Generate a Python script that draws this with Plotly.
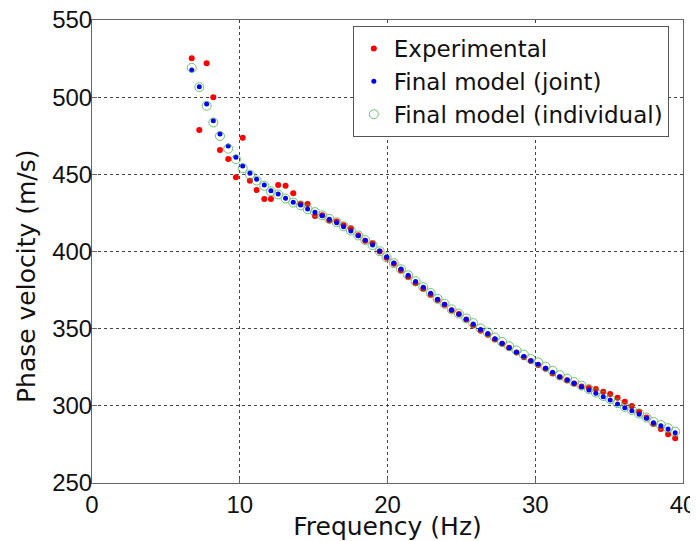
import plotly.graph_objects as go

# Frequencies (Hz)
frequency = [6.75, 7.26, 7.76, 8.21, 8.66, 9.22, 9.74, 10.2, 10.69, 11.14,
             11.66, 12.11, 12.6, 13.1, 13.62, 14.12, 14.59, 15.09, 15.58, 16.06,
             16.56, 17.03, 17.52, 18.02, 18.49, 18.99, 19.47, 19.94, 20.43, 20.91,
             21.4, 21.9, 22.42, 22.92, 23.39, 23.86, 24.34, 24.83, 25.33, 25.8,
             26.3, 26.79, 27.27, 27.76, 28.23, 28.73, 29.23, 29.7, 30.2, 30.7,
             31.17, 31.66, 32.16, 32.63, 33.13, 33.63, 34.1, 34.6, 35.07, 35.57,
             36.06, 36.54, 37.03, 37.53, 38.0, 38.5, 38.99, 39.47]

experimental = [525.2, 478.7, 521.9, 499.9, 465.8, 459.9, 448.1, 473.7, 445.9, 439.8,
                434.0, 434.0, 443.1, 442.6, 437.7, 430.8, 430.8, 423.0, 423.5, 420.1,
                419.5, 417.0, 415.0, 410.5, 407.0, 405.3, 400.0, 396.0, 392.0, 387.8,
                383.5, 379.5, 375.8, 372.0, 368.6, 365.5, 362.0, 359.5, 356.0, 352.0,
                348.6, 346.0, 343.0, 340.2, 337.7, 334.5, 331.5, 329.0, 326.5, 324.0,
                321.0, 318.5, 316.5, 314.5, 312.6, 311.5, 310.9, 309.2, 307.7, 305.3,
                302.7, 299.9, 296.2, 292.5, 288.3, 285.0, 281.6, 279.0]

model_joint = [517.6, 506.8, 495.6, 484.8, 476.1, 468.4, 461.0, 455.4, 450.7, 446.8,
               443.1, 439.4, 437.3, 434.5, 431.9, 430.1, 427.5, 425.4, 423.2, 420.9,
               418.7, 416.1, 413.3, 410.2, 407.3, 404.2, 400.3, 396.4, 392.5, 388.6,
               384.6, 380.6, 376.8, 372.9, 369.0, 365.8, 362.1, 359.3, 356.1, 353.0,
               349.5, 346.8, 343.5, 340.5, 337.7, 334.8, 332.0, 329.2, 326.9, 324.3,
               321.7, 318.9, 316.7, 314.6, 312.4, 310.3, 308.1, 305.9, 303.8, 301.2,
               298.8, 296.8, 294.5, 291.9, 289.1, 287.1, 285.0, 282.6]

model_individual = [519.0, 506.5, 494.4, 483.6, 474.8, 466.6, 459.8, 454.0, 449.8, 446.0,
                    442.6, 439.0, 437.0, 434.3, 431.7, 429.9, 427.4, 425.5, 423.4, 421.2,
                    419.0, 416.4, 413.6, 410.4, 407.4, 404.2, 400.2, 396.3, 392.4, 388.5,
                    384.6, 380.7, 376.9, 373.1, 369.3, 366.1, 362.5, 359.7, 356.6, 353.6,
                    350.2, 347.5, 344.3, 341.4, 338.6, 335.9, 333.2, 330.4, 328.1, 325.4,
                    322.8, 319.9, 317.6, 315.4, 313.1, 310.9, 308.6, 306.4, 304.3, 301.7,
                    299.3, 297.3, 295.0, 292.4, 289.6, 287.6, 285.5, 283.2]

x_ticks = [0, 10, 20, 30, 40]
y_ticks = [250, 300, 350, 400, 450, 500, 550]

TICK_FONT = "Liberation Sans, Arial, sans-serif"
LABEL_FONT = "DejaVu Sans, Liberation Sans, sans-serif"

fig = go.Figure()
fig.add_trace(go.Scatter(
    x=frequency, y=experimental, mode="markers", name="Experimental",
    marker=dict(color="#ff0000", size=6, line=dict(width=0)),
))
fig.add_trace(go.Scatter(
    x=frequency, y=model_joint, mode="markers", name="Final model (joint)",
    marker=dict(color="#0000ff", size=5, line=dict(width=0)),
))
fig.add_trace(go.Scatter(
    x=frequency, y=model_individual, mode="markers", name="Final model (individual)",
    marker=dict(symbol="circle-open", color="#3cb043", size=9, line=dict(width=1)),
    opacity=0.75,
))

axis_common = dict(
    showline=True, linecolor="#666666", linewidth=1, mirror=True,
    ticks="inside", ticklen=5, tickcolor="#666666",
    showgrid=True, gridcolor="#444444", griddash="dot", gridwidth=1,
    zeroline=False,
    ticklabeloverflow="allow",
    tickfont=dict(family=TICK_FONT, size=24, color="#111111"),
)

fig.update_xaxes(
    range=[0, 40], tickvals=x_ticks, ticktext=[str(t) for t in x_ticks],
    title=dict(text="Frequency (Hz)", font=dict(family=LABEL_FONT, size=25, color="#111111"), standoff=4),
    **axis_common,
)
fig.update_yaxes(
    range=[250, 550], tickvals=y_ticks, ticktext=[str(t) for t in y_ticks],
    ticklabelstandoff=-6,
    **axis_common,
)

# y-axis title placed as a rotated annotation (reference label sits below axis centre)
fig.add_annotation(
    text="Phase velocity (m/s)", textangle=-90,
    xref="paper", yref="paper", x=0, y=0.447,
    xanchor="center", yanchor="middle", xshift=-66, showarrow=False,
    font=dict(family=LABEL_FONT, size=25, color="#111111"),
)

# page body adds an 8px offset, so the figure is sized/margined to compensate
fig.update_layout(
    width=690, height=533,
    margin=dict(l=84, r=15, t=12, b=58, autoexpand=False),
    plot_bgcolor="white", paper_bgcolor="white",
    legend=dict(
        x=0.976, y=0.987, xanchor="right", yanchor="top",
        bgcolor="white", bordercolor="#555555", borderwidth=1,
        font=dict(family=LABEL_FONT, size=23, color="#111111"),
        traceorder="normal",
    ),
    showlegend=True,
)

fig.write_html("out.html")
